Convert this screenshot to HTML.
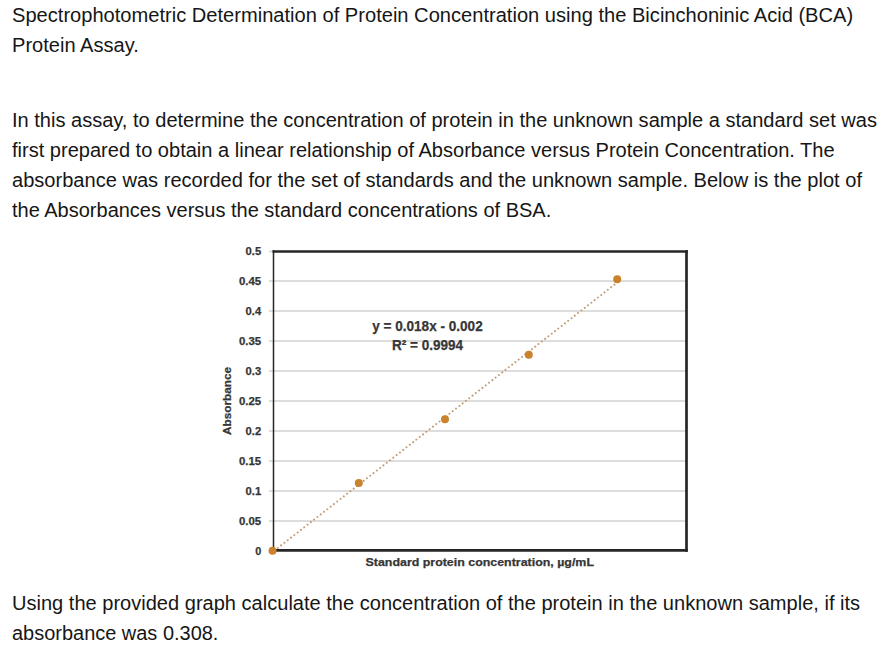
<!DOCTYPE html>
<html>
<head>
<meta charset="utf-8">
<style>
html,body{-webkit-font-smoothing:antialiased;margin:0;padding:0;background:#fff;width:887px;height:664px;overflow:hidden;position:relative;}
.t{position:absolute;left:12px;white-space:nowrap;font-family:"Liberation Sans",sans-serif;font-size:20px;line-height:20px;color:#161616;transform-origin:0 0;}
svg{position:absolute;left:0;top:0;}
.ax{font-family:"Liberation Sans",sans-serif;font-weight:bold;fill:#363636;stroke:#363636;stroke-width:0.25px;}
</style>
</head>
<body>
<div class="t" id="l1" style="top:5px;transform:scaleX(1.0048)">Spectrophotometric Determination of Protein Concentration using the Bicinchoninic Acid (BCA)</div>
<div class="t" id="l2" style="top:35px;transform:scaleX(1.0033)">Protein Assay.</div>
<div class="t" id="p1" style="top:110px;transform:scaleX(1.0017)">In this assay, to determine the concentration of protein in the unknown sample a standard set was</div>
<div class="t" id="p2" style="top:140px;transform:scaleX(1.0017)">first prepared to obtain a linear relationship of Absorbance versus Protein Concentration. The</div>
<div class="t" id="p3" style="top:170px;transform:scaleX(1.0033)">absorbance was recorded for the set of standards and the unknown sample. Below is the plot of</div>
<div class="t" id="p4" style="top:200px;transform:scaleX(1.0000)">the Absorbances versus the standard concentrations of BSA.</div>

<svg width="887" height="664" viewBox="0 0 887 664">
  <g stroke="#d2d2d2" stroke-width="1.5">
    <line x1="269" y1="281" x2="686" y2="281"/>
    <line x1="269" y1="311" x2="686" y2="311"/>
    <line x1="269" y1="341" x2="686" y2="341"/>
    <line x1="269" y1="371" x2="686" y2="371"/>
    <line x1="269" y1="401" x2="686" y2="401"/>
    <line x1="269" y1="431" x2="686" y2="431"/>
    <line x1="269" y1="461" x2="686" y2="461"/>
    <line x1="269" y1="491" x2="686" y2="491"/>
    <line x1="269" y1="521" x2="686" y2="521"/>
    <line x1="269" y1="251.5" x2="273" y2="251.5"/>
    <line x1="269" y1="550.5" x2="273" y2="550.5"/>
  </g>
  <g fill="none" stroke="#262626">
    <line x1="272.5" y1="251.45" x2="688" y2="251.45" stroke-width="2.6"/>
    <line x1="686.5" y1="250.2" x2="686.5" y2="551.7" stroke-width="2.7"/>
    <line x1="272.7" y1="550.3" x2="687.8" y2="550.3" stroke-width="2.7"/>
    <line x1="273.5" y1="250.2" x2="273.5" y2="551" stroke-width="1.5"/>
  </g>
  <line x1="274.5" y1="550.56" x2="617.1" y2="282.54" stroke="#c29c74" stroke-width="2" stroke-linecap="round" stroke-dasharray="0.01 4.18"/>
  <g fill="#cb822c">
    <circle cx="272.5" cy="550.7" r="4"/>
    <circle cx="358.8" cy="483.1" r="4"/>
    <circle cx="445" cy="419.3" r="4"/>
    <circle cx="528.8" cy="354.8" r="4"/>
    <circle cx="617.2" cy="279.2" r="4"/>
  </g>
  <g class="ax" font-size="10.8" text-anchor="end">
    <text x="261.2" y="255.0" textLength="15.6" lengthAdjust="spacingAndGlyphs">0.5</text>
    <text x="261.2" y="285.1" textLength="22.2" lengthAdjust="spacingAndGlyphs">0.45</text>
    <text x="261.2" y="315.1" textLength="15.6" lengthAdjust="spacingAndGlyphs">0.4</text>
    <text x="261.2" y="345.1" textLength="22.2" lengthAdjust="spacingAndGlyphs">0.35</text>
    <text x="261.2" y="375.1" textLength="15.6" lengthAdjust="spacingAndGlyphs">0.3</text>
    <text x="261.2" y="405.1" textLength="22.2" lengthAdjust="spacingAndGlyphs">0.25</text>
    <text x="261.2" y="435.1" textLength="15.6" lengthAdjust="spacingAndGlyphs">0.2</text>
    <text x="261.2" y="465.1" textLength="22.2" lengthAdjust="spacingAndGlyphs">0.15</text>
    <text x="261.2" y="495.1" textLength="15.6" lengthAdjust="spacingAndGlyphs">0.1</text>
    <text x="261.2" y="525.1" textLength="22.2" lengthAdjust="spacingAndGlyphs">0.05</text>
    <text x="261.2" y="555.1">0</text>
  </g>
  <text class="ax" font-size="11.6" transform="translate(230.5,435) rotate(-90)" textLength="68" lengthAdjust="spacingAndGlyphs">Absorbance</text>
  <text class="ax" font-size="11" x="365.5" y="566" textLength="228.5" lengthAdjust="spacingAndGlyphs">Standard protein concentration, µg/mL</text>
  <g class="ax" font-size="13.8">
    <text x="372.2" y="330.8" textLength="110.5" lengthAdjust="spacingAndGlyphs">y = 0.018x - 0.002</text>
    <text x="392" y="349.6" textLength="71" lengthAdjust="spacingAndGlyphs">R² = 0.9994</text>
  </g>
</svg>

<div class="t" id="q1" style="top:593px;transform:scaleX(1.0024)">Using the provided graph calculate the concentration of the protein in the unknown sample, if its</div>
<div class="t" id="q2" style="top:623px;transform:scaleX(0.9980)">absorbance was 0.308.</div>
</body>
</html>
